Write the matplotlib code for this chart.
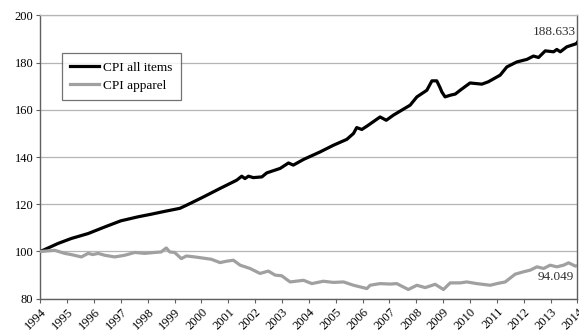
import matplotlib.pyplot as plt

plt.rcParams['font.family'] = ['Liberation Serif', 'DejaVu Serif']

# CPI all items (1994 = 100), read by date in fractional years
all_years = [1994.0, 1994.66, 1995.15, 1995.78, 1996.4, 1997.0, 1997.64, 1998.13,
             1998.63, 1999.07, 1999.2, 1999.57, 2000.07, 2000.69, 2001.31, 2001.5,
             2001.62, 2001.75, 2001.93, 2002.25, 2002.43, 2002.93, 2003.24, 2003.42,
             2003.8, 2004.42, 2004.91, 2005.41, 2005.66, 2005.78, 2005.97, 2006.16,
             2006.65, 2006.88, 2007.15, 2007.77, 2008.02, 2008.39, 2008.58, 2008.76,
             2008.88, 2008.95, 2009.07, 2009.26, 2009.45, 2009.63, 2010.0, 2010.44,
             2010.68, 2011.12, 2011.37, 2011.74, 2012.12, 2012.36, 2012.55, 2012.8,
             2013.11, 2013.23, 2013.36, 2013.6, 2013.97, 2014.0]
all_items = [100.0, 103.4, 105.5, 107.6, 110.4, 113.0, 114.7, 115.8,
             117.0, 118.0, 118.3, 120.3, 123.1, 126.7, 130.2, 131.9,
             130.9, 131.9, 131.3, 131.6, 133.3, 135.2, 137.5, 136.6,
             139.0, 142.2, 145.0, 147.5, 150.0, 152.5, 151.7, 153.1,
             157.0, 155.6, 157.8, 162.0, 165.5, 168.3, 172.3, 172.3,
             169.5, 167.6, 165.5, 166.2, 166.7, 168.3, 171.4, 170.9,
             171.9, 174.7, 178.2, 180.3, 181.4, 182.8, 182.2, 185.0,
             184.6, 185.6, 184.6, 186.7, 188.1, 188.633]

# CPI apparel (1994 = 100)
app_years = [1994.0, 1994.54, 1994.91, 1995.15, 1995.53, 1995.78, 1995.96, 1996.15,
             1996.4, 1996.77, 1997.14, 1997.52, 1997.89, 1998.26, 1998.5, 1998.69,
             1998.82, 1999.0, 1999.25, 1999.44, 1999.75, 2000.0, 2000.37, 2000.69,
             2000.94, 2001.19, 2001.44, 2001.81, 2002.18, 2002.49, 2002.74, 2002.99,
             2003.3, 2003.8, 2004.11, 2004.54, 2004.91, 2005.29, 2005.66, 2006.16,
             2006.28, 2006.65, 2007.02, 2007.27, 2007.7, 2008.02, 2008.33, 2008.7,
             2009.01, 2009.26, 2009.63, 2009.88, 2010.25, 2010.75, 2011.0, 2011.31,
             2011.68, 2011.99, 2012.24, 2012.49, 2012.74, 2012.98, 2013.23, 2013.48,
             2013.67, 2013.92, 2014.0]
apparel = [100.0, 100.5, 99.2, 98.7, 97.7, 99.2, 98.7, 99.2,
           98.4, 97.7, 98.4, 99.6, 99.2, 99.6, 99.8, 101.5,
           99.8, 99.6, 97.0, 98.1, 97.7, 97.3, 96.7, 95.3,
           95.9, 96.3, 94.2, 92.8, 90.7, 91.7, 90.0, 89.7,
           87.1, 87.8, 86.4, 87.4, 86.9, 87.1, 85.7, 84.3,
           85.7, 86.4, 86.2, 86.4, 83.9, 85.7, 84.7, 86.1,
           83.9, 86.7, 86.7, 87.1, 86.4, 85.7, 86.4, 87.1,
           90.4, 91.4, 92.1, 93.5, 92.8, 94.2, 93.5, 94.2,
           95.2, 93.8, 94.049]

year_ticks = list(range(1994, 2015))

fig = plt.figure(figsize=(5.79, 3.36), dpi=100)
ax = fig.add_axes([0.0696, 0.111, 0.9278, 0.843])

ax.plot(all_years, all_items, color='black', lw=2.3, label='CPI all items',
        solid_joinstyle='round', zorder=3)
ax.plot(app_years, apparel, color='#a0a0a0', lw=2.3, label='CPI apparel',
        solid_joinstyle='round', zorder=3)

ax.set_xlim(1994, 2014)
ax.set_ylim(80, 200)
ax.set_yticks(range(80, 201, 20))
ax.set_xticks(year_ticks)
ax.set_xticklabels([str(y) for y in year_ticks], rotation=45, ha='right',
                   rotation_mode='anchor')
ax.tick_params(axis='both', labelsize=9, length=3, color='#606060', pad=2)
ax.grid(axis='y', color='#b5b5b5', lw=0.9)
ax.set_axisbelow(True)

for side in ['left', 'right', 'bottom']:
    ax.spines[side].set_color('#606060')
    ax.spines[side].set_linewidth(1.0)
ax.spines['top'].set_color('#b5b5b5')
ax.spines['top'].set_linewidth(0.9)

ax.text(2013.95, all_items[-1] + 1.8, '%.3f' % all_items[-1], ha='right',
        va='bottom', fontsize=9.5, color='#303030')
ax.text(2013.85, apparel[-1] - 2.3, '%.3f' % apparel[-1], ha='right',
        va='top', fontsize=9.5, color='#303030')

leg = ax.legend(loc='upper left', bbox_to_anchor=(0.029, 0.889), fontsize=9.5,
                frameon=True, fancybox=False, handlelength=2.2,
                handletextpad=0.3, borderpad=0.6, labelspacing=0.45)
leg.get_frame().set_edgecolor('#505050')
leg.get_frame().set_linewidth(0.9)

fig.savefig('out.png', dpi=100)
